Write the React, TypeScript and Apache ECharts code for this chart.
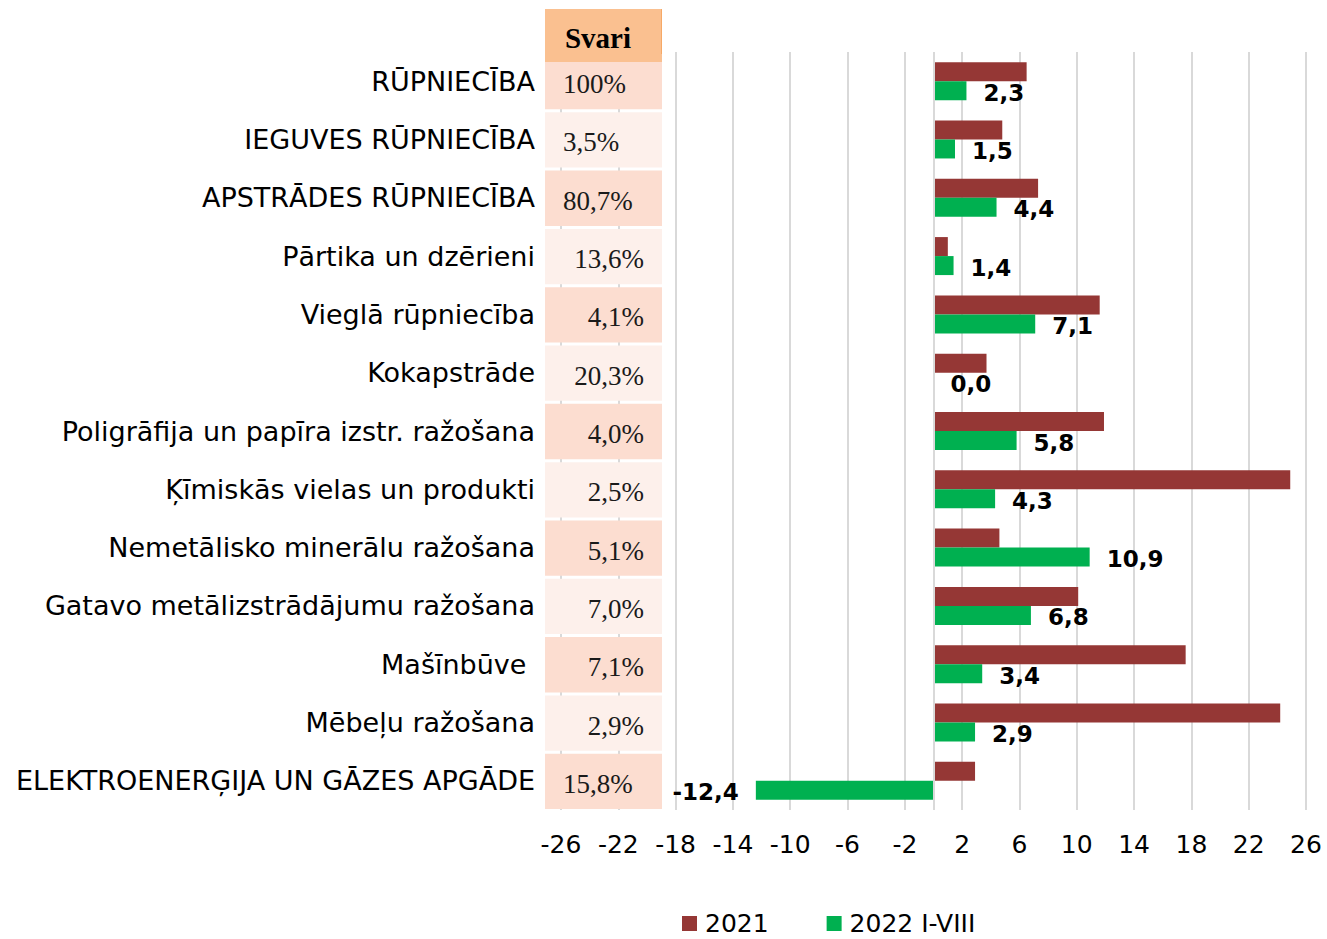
import React, { useEffect, useRef } from "react";
import * as echarts from "echarts";

const categories = [
  "RŪPNIECĪBA",
  "IEGUVES RŪPNIECĪBA",
  "APSTRĀDES RŪPNIECĪBA",
  "Pārtika un dzērieni",
  "Vieglā rūpniecība",
  "Kokapstrāde",
  "Poligrāfija un papīra izstr. ražošana",
  "Ķīmiskās vielas un produkti",
  "Nemetālisko minerālu ražošana",
  "Gatavo metālizstrādājumu ražošana",
  "Mašīnbūve ",
  "Mēbeļu ražošana",
  "ELEKTROENERĢIJA UN GĀZES APGĀDE",
];

const weights = [100, 3.5, 80.7, 13.6, 4.1, 20.3, 4.0, 2.5, 5.1, 7.0, 7.1, 2.9, 15.8];

const values2021 = [6.5, 4.8, 7.3, 1.0, 11.6, 3.7, 11.9, 24.9, 4.6, 10.1, 17.6, 24.2, 2.9];
const values2022 = [2.3, 1.5, 4.4, 1.4, 7.1, 0.0, 5.8, 4.3, 10.9, 6.8, 3.4, 2.9, -12.4];

const seriesNames = ["2021", "2022 I-VIII"];
const weightHeader = "Svari";

const xMin = -26;
const xMax = 26;
const xStep = 4;

const fmt = (v: number) => v.toFixed(1).replace(".", ",");
const fmtWeight = (v: number) =>
  (Number.isInteger(v) && v >= 100 ? String(v) : v.toFixed(1).replace(".", ",")) + "%";

const SANS = "DejaVu Sans";
const SERIF = "Liberation Serif";

export default function App() {
  const ref = useRef<HTMLDivElement>(null);

  useEffect(() => {
    if (!ref.current) return;
    const chart = echarts.init(ref.current, null, { renderer: "svg" });

    const option: any = {
      animation: false,
      backgroundColor: "#ffffff",
      grid: { left: 561, right: 21, top: 52, bottom: 129, containLabel: false },
      legend: {
        data: seriesNames,
        left: 682,
        top: 911,
        padding: 0,
        icon: "rect",
        itemWidth: 15,
        itemHeight: 15,
        itemGap: 58,
        textStyle: {
          fontSize: 25,
          fontFamily: SANS,
          color: "#000",
          padding: [0, 0, 0, 3],
        },
      },
      xAxis: {
        type: "value",
        min: xMin,
        max: xMax,
        interval: xStep,
        axisLine: { show: false },
        axisTick: { show: false },
        splitLine: { show: true, lineStyle: { color: "#D9D9D9", width: 2 } },
        axisLabel: { fontSize: 25, fontFamily: SANS, color: "#000", margin: 22 },
      },
      yAxis: {
        type: "category",
        data: categories,
        inverse: true,
        axisLine: { show: false },
        axisTick: { show: false },
        splitLine: { show: false },
        axisLabel: { fontSize: 27, fontFamily: SANS, color: "#000", margin: 26 },
      },
      series: [
        {
          name: seriesNames[0],
          type: "bar",
          data: values2021,
          barWidth: 19,
          barGap: "0%",
          itemStyle: { color: "#953735" },
          markLine: {
            silent: true,
            symbol: ["none", "none"],
            label: { show: false },
            lineStyle: { color: "#D9D9D9", type: "solid", width: 2 },
            data: [{ xAxis: 0 }],
          },
        },
        {
          name: seriesNames[1],
          type: "bar",
          barWidth: 19,
          barGap: "0%",
          itemStyle: { color: "#00B050" },
          data: values2022.map((v) => ({
            value: v,
            label: { position: v < 0 ? "left" : "right" },
          })),
          label: {
            show: true,
            distance: 17,
            offset: [0, 2],
            fontSize: 23,
            fontWeight: "bold",
            fontFamily: SANS,
            color: "#000",
            formatter: (p: any) => fmt(p.value),
          },
        },
      ],
    };

    chart.setOption(option);

    // Build the "Svari" weights table aligned with the category bands
    const centers = categories.map((_, i) =>
      chart.convertToPixel({ yAxisIndex: 0 }, i) as number
    );
    const band = Math.abs(centers[1] - centers[0]);
    const tableX = 545;
    const tableW = 117;
    const headerTop = 9;
    const headerBottom = 62;
    const leftAligned = new Set([0, 1, 2, categories.length - 1]);

    const elements: any[] = [
      {
        type: "rect",
        z: 100,
        shape: { x: tableX, y: headerTop, width: tableW, height: headerBottom - headerTop },
        style: { fill: "#FAC090" },
      },
      {
        type: "line",
        z: 101,
        shape: { x1: tableX + tableW - 0.5, y1: headerTop, x2: tableX + tableW - 0.5, y2: headerBottom - 8 },
        style: { stroke: "#F7A966", lineWidth: 1 },
      },
      {
        type: "text",
        z: 102,
        x: 598,
        y: 38,
        style: {
          text: weightHeader,
          fill: "#000",
          font: `bold 29px "${SERIF}"`,
          align: "center",
          verticalAlign: "middle",
        },
      },
    ];

    weights.forEach((w, i) => {
      const c = centers[i];
      const top = i === 0 ? headerBottom : c - band / 2 + 2;
      const bottom = c + band / 2 - 1;
      elements.push({
        type: "rect",
        z: 100,
        shape: { x: tableX, y: top, width: tableW, height: bottom - top },
        style: { fill: i % 2 === 0 ? "#FCDDD0" : "#FDF0EB" },
      });
      const left = leftAligned.has(i);
      elements.push({
        type: "text",
        z: 102,
        x: left ? 563 : 644,
        y: c + 3,
        style: {
          text: fmtWeight(w),
          fill: "#1a1a1a",
          font: `27px "${SERIF}"`,
          align: left ? "left" : "right",
          verticalAlign: "middle",
        },
      });
    });

    chart.setOption({ graphic: { elements } });

    return () => chart.dispose();
  }, []);

  return (
    <div
      ref={ref}
      style={{ position: "fixed", left: 0, top: 0, width: 1327, height: 939, background: "#fff" }}
    />
  );
}
